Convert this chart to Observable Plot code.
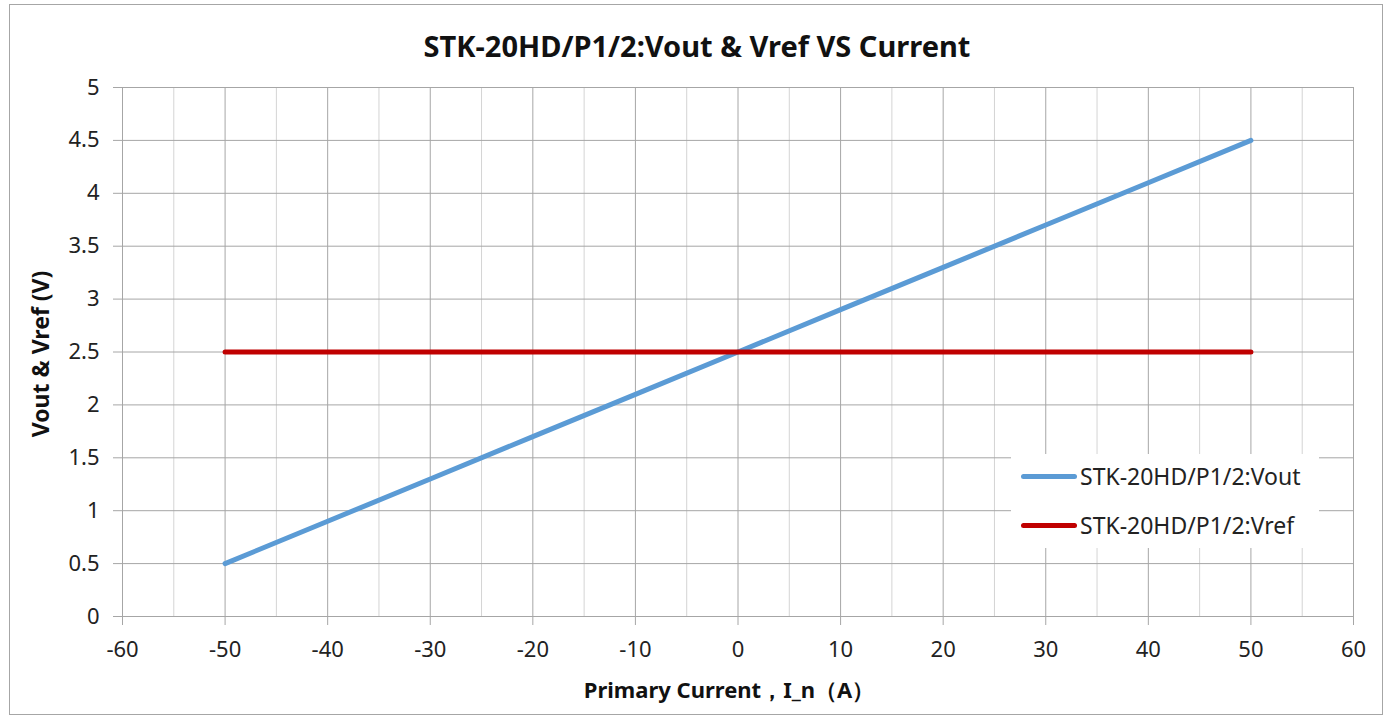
<!DOCTYPE html>
<html>
<head>
<meta charset="utf-8">
<script src="https://cdn.jsdelivr.net/npm/d3@7"></script>
<script src="https://cdn.jsdelivr.net/npm/@observablehq/plot@0.6"></script>
<style>
  html, body { margin: 0; padding: 0; background: #fff; }
  #wrap { position: relative; width: 1391px; height: 720px; font-family: "Noto Sans", "Open Sans", sans-serif; }
  #border { position: absolute; left: 9px; top: 4px; width: 1374px; height: 711px; border: 1.5px solid #a6a6a6; box-sizing: border-box; pointer-events: none; }
  #legend { position: absolute; left: 1011px; top: 454px; width: 308px; height: 94px; background: #fff; }
  .item { position: absolute; left: 10px; height: 30px; display: flex; align-items: center; font-size: 23px; color: #222; white-space: nowrap; }
  .sw { width: 56px; height: 5px; border-radius: 3px; margin-right: 3px; }
</style>
</head>
<body>
<div id="wrap">
  <div id="chart"></div>
  <div id="legend"></div>
  <div id="border"></div>
</div>
<script>
const title = "STK-20HD/P1/2:Vout & Vref VS Current";
const xLabel = "Primary Current，I_n（A）";
const yLabel = "Vout & Vref (V)";
const seriesNames = ["STK-20HD/P1/2:Vout", "STK-20HD/P1/2:Vref"];
const seriesColors = ["#5b9bd5", "#c00000"];
const current = [-50, -40, -30, -20, -10, 0, 10, 20, 30, 40, 50];
const vout = [0.5, 0.9, 1.3, 1.7, 2.1, 2.5, 2.9, 3.3, 3.7, 4.1, 4.5];
const vref = [2.5, 2.5, 2.5, 2.5, 2.5, 2.5, 2.5, 2.5, 2.5, 2.5, 2.5];
const xMajorTicks = [-60, -50, -40, -30, -20, -10, 0, 10, 20, 30, 40, 50, 60];
const xMinorTicks = [-55, -45, -35, -25, -15, -5, 5, 15, 25, 35, 45, 55];
const yTicks = [0, 0.5, 1, 1.5, 2, 2.5, 3, 3.5, 4, 4.5, 5];

const data = [
  ...current.map((x, i) => ({x, y: vout[i], s: seriesNames[0]})),
  ...current.map((x, i) => ({x, y: vref[i], s: seriesNames[1]}))
];

const chart = Plot.plot({
  width: 1391,
  height: 720,
  marginLeft: 122,
  marginRight: 38,
  marginTop: 87,
  marginBottom: 104,
  style: {fontFamily: '"Noto Sans", "Open Sans", sans-serif', fontSize: "22px", color: "#222", background: "transparent"},
  x: {domain: [-60, 60]},
  y: {domain: [0, 5]},
  color: {domain: seriesNames, range: seriesColors},
  marks: [
    Plot.gridX(xMinorTicks, {stroke: "#d4d4d4", strokeOpacity: 1, strokeWidth: 1}),
    Plot.gridX(xMajorTicks, {stroke: "#a6a6a6", strokeOpacity: 1, strokeWidth: 1}),
    Plot.gridY(yTicks, {stroke: "#a6a6a6", strokeOpacity: 1, strokeWidth: 1}),
    Plot.axisX(xMajorTicks, {tickSize: 9, tickPadding: 16, stroke: "#a6a6a6", label: null, tickFormat: d => String(d), fontSize: 22}),
    Plot.axisY(yTicks, {tickSize: 9, tickPadding: 14, stroke: "#a6a6a6", label: null, tickFormat: d => String(d), fontSize: 22}),
    Plot.line(data, {x: "x", y: "y", z: "s", stroke: "s", strokeWidth: 5, strokeLinecap: "round"}),
    Plot.text([title], {frameAnchor: "top", lineAnchor: "middle", dx: -41, dy: -40, fontSize: 29, fontWeight: "bold", fill: "#111"}),
    Plot.text([xLabel], {frameAnchor: "bottom", lineAnchor: "middle", dx: -9, dy: 74, fontSize: 22, fontWeight: "bold", fill: "#111"}),
    Plot.text([yLabel], {frameAnchor: "left", lineAnchor: "middle", textAnchor: "middle", dx: -81, dy: 2, rotate: -90, fontSize: 23, fontWeight: "bold", fill: "#111"})
  ]
});
document.getElementById("chart").appendChild(chart);

const legend = document.getElementById("legend");
seriesNames.forEach((name, i) => {
  const item = document.createElement("div");
  item.className = "item";
  item.style.top = (i === 0 ? 7 : 56) + "px";
  const sw = document.createElement("div");
  sw.className = "sw";
  sw.style.background = seriesColors[i];
  item.appendChild(sw);
  const t = document.createElement("span");
  t.textContent = name;
  item.appendChild(t);
  legend.appendChild(item);
});
</script>
</body>
</html>
